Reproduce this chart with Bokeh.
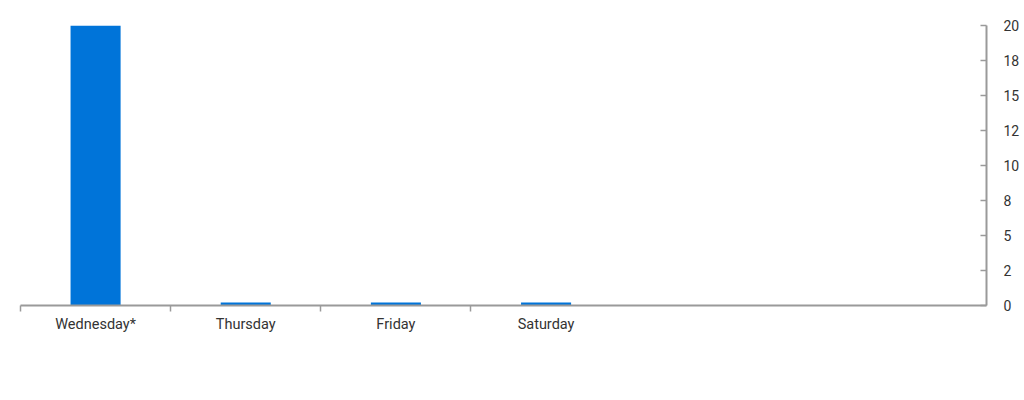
from bokeh.plotting import figure
from bokeh.models import Range1d, LinearAxis, FixedTicker
from bokeh.embed import file_html
from bokeh.resources import INLINE

days = ["Wednesday*", "Thursday", "Friday", "Saturday"]
values = [20, 0.22, 0.22, 0.22]
y_ticks = [0, 2.5, 5, 7.5, 10, 12.5, 15, 17.5, 20]
n_slots = 6.433

bar_color = "#0074d9"
axis_color = "#9a9a9a"
text_color = "#333333"
font = "Roboto"

x_centers = [i + 0.5 for i in range(len(days))]
boundaries = [float(i) for i in range(len(days))]

p = figure(width=1022, height=384, output_backend="svg", toolbar_location=None,
           x_range=Range1d(0, n_slots), y_range=Range1d(0, 20),
           x_axis_location=None, y_axis_location=None,
           min_border_left=20, min_border_right=31, min_border_top=25, min_border_bottom=79)
p.outline_line_color = None
p.xgrid.visible = False
p.ygrid.visible = False
p.background_fill_color = "white"
p.border_fill_color = "white"

p.vbar(x=x_centers, top=values, bottom=0, width=1/3, fill_color=bar_color, line_color=None)

xa = LinearAxis(ticker=FixedTicker(ticks=x_centers, minor_ticks=boundaries))
xa.major_label_overrides = {x: d for x, d in zip(x_centers, days)}
xa.axis_line_color = axis_color
xa.axis_line_width = 2
xa.major_tick_in = 0
xa.major_tick_out = 0
xa.minor_tick_in = 0
xa.minor_tick_out = 6
xa.minor_tick_line_color = axis_color
xa.minor_tick_line_width = 1.5
xa.major_label_standoff = 4
xa.major_label_text_font = font
xa.major_label_text_font_size = "14.5px"
xa.major_label_text_color = text_color
p.add_layout(xa, "below")

ya = LinearAxis(ticker=FixedTicker(ticks=y_ticks))
ya.major_label_overrides = {t: str(round(t)) for t in y_ticks}
ya.axis_line_color = axis_color
ya.axis_line_width = 2
ya.major_tick_in = 6
ya.major_tick_out = 0
ya.major_tick_line_color = axis_color
ya.major_tick_line_width = 1.5
ya.minor_tick_line_color = None
ya.major_label_standoff = 17
ya.major_label_text_font = font
ya.major_label_text_font_size = "14px"
ya.major_label_text_color = text_color
p.add_layout(ya, "right")

open("out.html", "w").write(file_html(p, INLINE))
